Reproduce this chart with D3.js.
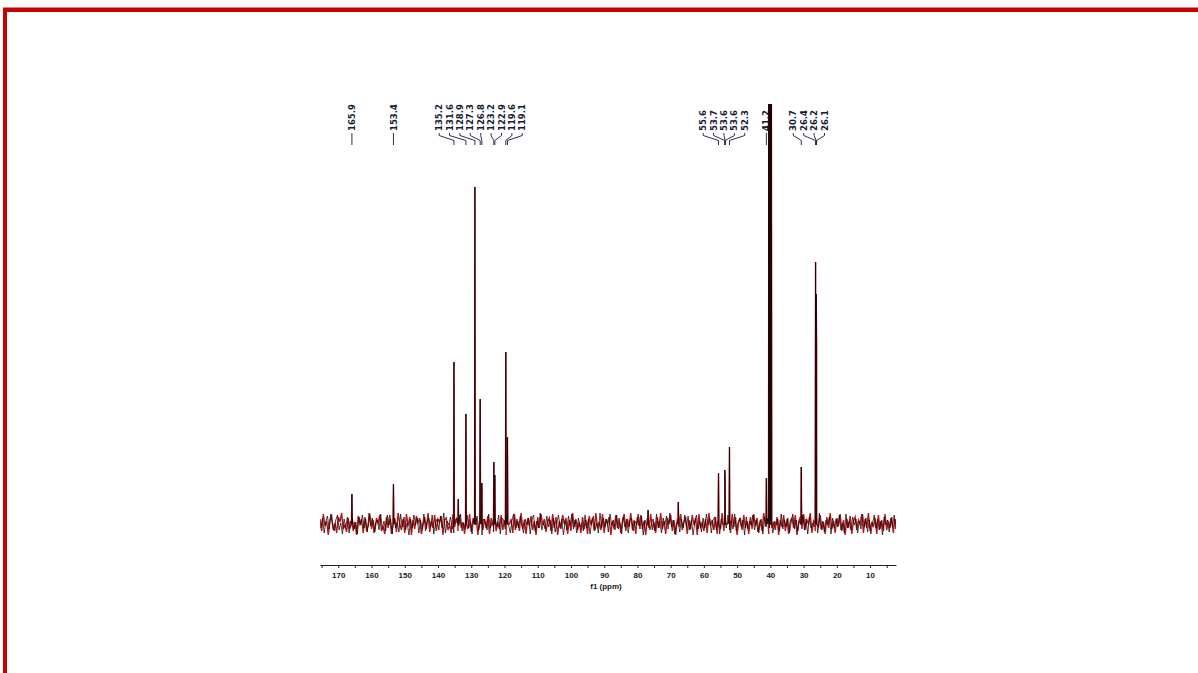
<!DOCTYPE html>
<html>
<head>
<meta charset="utf-8">
<script src="https://cdn.jsdelivr.net/npm/d3@7"></script>
<style>
  html, body { margin: 0; padding: 0; background: #fff; }
  svg { display: block; }
</style>
</head>
<body>
<svg id="chart" width="1198" height="673"></svg>
<script>
// 13C NMR spectrum, f1 axis in ppm

// Labelled / visible resonances (ppm) and their heights (intensity units)
const peakPpm = [165.9, 153.4, 135.2, 133.9, 131.6, 128.9, 127.3, 126.8, 123.2, 122.9, 119.6, 119.1,
                 76.8, 67.7, 55.6, 53.7, 53.6, 52.3, 41.2,
                 40.5, 40.3, 40.1, 39.9, 39.7,
                 30.7, 26.4, 26.2, 26.1];
const peakHeight = [30, 40, 162, 25, 110, 337, 125, 41, 62, 49, 172, 87,
                    14, 22, 51, 54, 40, 77, 46,
                    480, 560, 640, 560, 480,
                    57, 262, 230, 180];

// Peak-pick labels, grouped the way they are printed above the spectrum
const labelGroups = [
  [165.9],
  [153.4],
  [135.2, 131.6, 128.9, 127.3, 126.8, 123.2, 122.9, 119.6, 119.1],
  [55.6, 53.7, 53.6, 53.6, 52.3],
  [41.2],
  [30.7, 26.4, 26.2, 26.1]
];

// Tick positions on the f1 axis (labelled every 10 ppm)
const tickPpm = [175, 170, 165, 160, 155, 150, 145, 140, 135, 130, 125, 120, 115, 110, 105, 100,
                 95, 90, 85, 80, 75, 70, 65, 60, 55, 50, 45, 40, 35, 30, 25, 20, 15, 10, 5];

// Baseline noise of the two overlaid traces, sampled every 0.5 ppm
const redStart = 175.5, blackStart = 175.25, sampleStep = 0.5;
const redNoise = [
  5,-7,10,-2,3,-11,4,8,-6,1,-9,7,2,11,-5,-1,-8,6,-4,9,
  -7,2,-11,8,0,5,-9,7,-6,-2,10,-5,4,-8,6,1,9,-7,-3,-10,
  7,-4,9,-10,3,6,-8,11,0,-6,5,-9,10,-2,7,-11,4,-5,8,1,
  6,-10,-1,7,-5,11,-8,3,-4,9,-7,5,2,8,-11,4,6,-6,-1,-9,
  10,-3,5,-7,9,-4,2,-10,7,-5,10,-8,4,0,6,-11,3,7,-6,5,
  -4,8,-10,6,-1,11,-7,2,-5,9,-6,4,-11,7,0,5,-9,10,-4,3,
  -7,11,-5,4,-10,6,-2,8,-6,3,-11,7,-4,10,-1,5,-8,2,6,-7,
  10,-4,7,-11,3,-5,9,0,6,-10,4,-7,11,-3,5,-6,2,-9,7,-5,
  4,-10,8,-1,6,-7,11,-4,2,-6,10,-9,5,0,7,-11,3,-5,9,-4,
  6,-9,3,10,-7,5,-3,11,-6,4,-10,7,-2,9,-5,3,-11,6,-4,10,
  -6,2,-9,7,-4,11,-5,3,-10,6,0,9,-7,4,-11,5,-3,10,-6,2,
  7,-10,4,-5,9,-1,6,-11,10,-4,2,-7,5,-9,11,-2,4,-6,7,-10,
  3,-5,11,-7,6,0,4,-9,10,-3,7,-11,2,5,-6,9,-4,3,-10,7,
  -5,10,-2,6,-9,4,-7,11,-1,5,-10,8,-4,2,-6,7,-11,4,-3,9,
  -7,5,-10,3,6,-4,9,-11,2,7,-5,10,-6,4,0,11,-9,3,-7,6,
  -3,9,-6,2,-10,7,-4,11,-5,3,-9,6,-2,10,-7,4,-11,5,-4,8,
  -10,3,7,-6,4,0,10,-9,5,-4,11,-7,2,-3,6,-10,9,-5,4,-7,
  10,-6,3,-4,7,-9,5,-3
];
const blackNoise = [
  -4,6,-9,2,8,-5,10,-1,-7,4,9,-6,1,-10,5,-3,7,-9,3,6,
  -5,2,-10,7,-1,9,-4,5,-8,11,-2,6,-9,1,4,-6,10,-5,3,-7,
  9,-1,5,-10,6,-4,2,-8,10,-3,7,-6,1,-11,5,-4,9,-1,6,-9,
  4,-5,10,-7,2,6,-3,9,-10,1,5,-6,8,-4,11,-9,3,-1,7,-5,
  -9,4,6,-2,10,-7,1,-5,9,-4,3,-10,6,-1,8,-6,4,-11,5,2,
  -6,10,-4,1,-8,5,-3,9,-10,6,4,-5,8,-1,-9,3,10,-6,5,-4,
  8,-2,-9,5,-1,6,-10,4,9,-7,3,-4,11,-6,1,-5,8,-3,4,-10,
  6,-8,1,9,-4,5,-11,3,-6,8,-1,10,-5,4,-9,6,-3,1,-7,9,
  -4,5,-10,2,8,-6,1,-9,11,-4,6,-3,5,-8,10,-1,4,-6,9,-5,
  1,-10,7,-3,5,-9,4,6,-7,3,-1,10,-5,8,-11,4,-2,9,-6,1,
  5,-7,10,-4,3,-9,6,-1,8,-5,11,-3,4,-10,1,6,-8,5,-4,9,
  -3,8,-6,4,-11,1,9,-5,3,-8,6,-4,10,-1,5,-9,4,7,-6,3,
  -10,5,-1,8,-4,9,-6,3,-5,10,-7,1,6,-3,4,-11,7,-5,3,-1,
  9,-6,4,-8,1,5,-10,7,-3,6,-4,11,-9,3,-1,5,-7,10,-5,4,
  -3,6,-9,1,10,-5,4,-7,3,-1,9,-6,5,-10,7,-4,1,-3,6,-9,
  11,-5,3,-8,4,-1,7,-10,6,-4,5,-3,9,-6,1,-9,10,-4,3,-6,
  7,-1,5,-9,3,-5,10,-3,6,-8,4,-10,1,9,-4,5,-6,3,-11,7,
  -1,4,-8,6,-3,9,-5,1
];

const svg = d3.select("#chart");

// Frame around the page
svg.append("rect").attr("x", 3).attr("y", 7).attr("width", 1195).attr("height", 1).attr("fill", "#e08080");
svg.append("rect").attr("x", 3).attr("y", 8).attr("width", 1195).attr("height", 4).attr("fill", "#c80000");
svg.append("rect").attr("x", 3).attr("y", 8).attr("width", 4).attr("height", 665).attr("fill", "#c80000");

// Plot geometry
const plot = { left: 320, right: 896, top: 104, base: 524, axisY: 565 };

const x = d3.scaleLinear().domain([175.5, 2.2]).range([plot.left, plot.right]);
const y = d3.scaleLinear().domain([0, 420]).range([plot.base, plot.top]);

svg.append("clipPath").attr("id", "plotClip")
  .append("rect")
  .attr("x", plot.left).attr("y", plot.top)
  .attr("width", plot.right - plot.left).attr("height", 460);

// Build one trace: noise samples plus narrow peak spikes, ordered by ppm
function buildTrace(noise, start) {
  const pts = noise.map((v, i) => ({ ppm: start - i * sampleStep, v }));
  peakPpm.forEach((p, i) => {
    pts.push({ ppm: p + 0.12, v: 0 });
    pts.push({ ppm: p, v: peakHeight[i] });
    pts.push({ ppm: p - 0.12, v: 0 });
  });
  pts.sort((a, b) => b.ppm - a.ppm);
  return pts;
}

const line = d3.line().x(d => x(d.ppm)).y(d => y(d.v));

const traces = svg.append("g").attr("clip-path", "url(#plotClip)");
traces.append("path")
  .attr("d", line(buildTrace(redNoise, redStart)))
  .attr("fill", "none").attr("stroke", "#b5161b").attr("stroke-width", 1.4);
traces.append("path")
  .attr("d", line(buildTrace(blackNoise, blackStart)))
  .attr("fill", "none").attr("stroke", "#1a0505").attr("stroke-width", 0.9)
  .attr("stroke-opacity", 0.85);

// f1 axis
const axis = d3.axisBottom(x)
  .tickValues(tickPpm)
  .tickSize(3)
  .tickSizeOuter(0)
  .tickPadding(4)
  .tickFormat(d => (d % 10 === 0 ? d3.format("d")(d) : ""));

const gAxis = svg.append("g").attr("transform", `translate(0,${plot.axisY})`).call(axis);
gAxis.select(".domain").attr("stroke", "#222").attr("stroke-width", 1);
gAxis.selectAll(".tick line").attr("stroke", "#222");
gAxis.selectAll(".tick text")
  .attr("fill", "#1a1a1a")
  .style("font-family", "'Liberation Sans Narrow', 'Liberation Sans', sans-serif")
  .style("font-weight", "bold")
  .style("font-size", "8px");

svg.append("text")
  .attr("x", 606).attr("y", 589)
  .attr("text-anchor", "middle")
  .attr("fill", "#1a1a1a")
  .style("font-family", "'Liberation Sans Narrow', 'Liberation Sans', sans-serif")
  .style("font-weight", "bold")
  .style("font-size", "8px")
  .text("f1 (ppm)");

// Peak-pick labels with connectors down to the peak positions
const labelColor = "#141a36";
const labelSpacing = 10.4;
const textBottom = 131, linkTop = 133, bendTop = 135.5, bendBottom = 140.5, linkBottom = 145;
const gLabels = svg.append("g");

labelGroups.forEach(group => {
  const px = group.map(v => x(v));
  const mid = (d3.max(px) + d3.min(px)) / 2;
  const first = mid - (group.length - 1) * labelSpacing / 2;
  group.forEach((v, i) => {
    const lx = group.length === 1 ? px[i] : first + i * labelSpacing;
    gLabels.append("text")
      .attr("transform", `translate(${lx},${textBottom}) rotate(-90)`)
      .attr("dy", "0.36em")
      .attr("fill", labelColor)
      .style("font-family", "'DejaVu Sans', sans-serif")
      .style("font-weight", "bold")
      .style("font-size", "8.5px")
      .text(v.toFixed(1));
    const path = d3.path();
    path.moveTo(lx, linkTop);
    if (group.length === 1) {
      path.lineTo(lx, linkBottom);
    } else {
      path.lineTo(lx, bendTop);
      path.lineTo(px[i], bendBottom);
      path.lineTo(px[i], linkBottom);
    }
    gLabels.append("path")
      .attr("d", path.toString())
      .attr("fill", "none")
      .attr("stroke", labelColor)
      .attr("stroke-width", 0.9);
  });
});
</script>
</body>
</html>
